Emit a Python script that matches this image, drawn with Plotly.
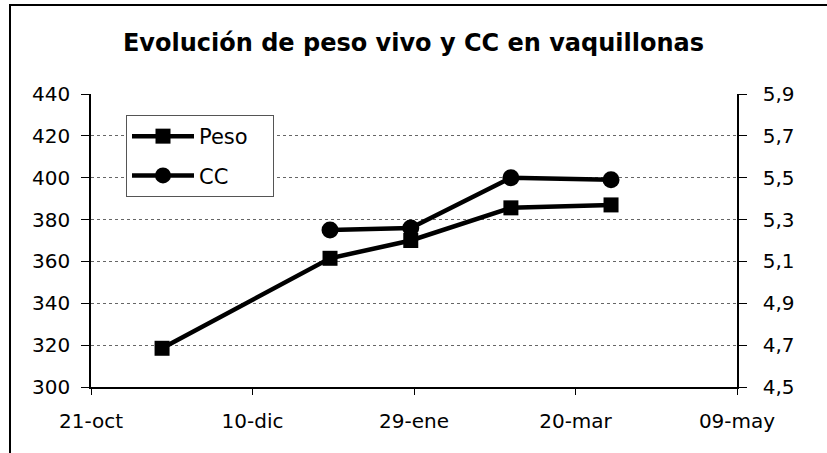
import plotly.graph_objects as go

# Data
peso_dates = ["2004-11-12", "2005-01-03", "2005-01-28", "2005-02-28", "2005-03-31"]
peso_vals = [318.5, 361.5, 370, 385.6, 387]
cc_dates = ["2005-01-03", "2005-01-28", "2005-02-28", "2005-03-31"]
cc_vals = [5.25, 5.26, 5.5, 5.49]

x_tickvals = ["2004-10-21", "2004-12-10", "2005-01-29", "2005-03-20", "2005-05-09"]
x_ticktext = ["21-oct", "10-dic", "29-ene", "20-mar", "09-may"]
y_left_ticks = [300, 320, 340, 360, 380, 400, 420, 440]
y_right_ticks = [4.5, 4.7, 4.9, 5.1, 5.3, 5.5, 5.7, 5.9]
y_right_text = ["4,5", "4,7", "4,9", "5,1", "5,3", "5,5", "5,7", "5,9"]

FONT = "DejaVu Sans, Liberation Sans, Arial, sans-serif"
PAD = "\u00a0\u00a0\u00a0"

fig = go.Figure()
fig.add_trace(go.Scatter(
    x=peso_dates, y=peso_vals, name="Peso" + PAD, mode="lines+markers",
    line=dict(color="black", width=4.5),
    marker=dict(symbol="square", size=15, color="black"),
    legendgroup="a", yaxis="y"))
fig.add_trace(go.Scatter(
    x=cc_dates, y=cc_vals, name="CC", mode="lines+markers",
    line=dict(color="black", width=4.5),
    marker=dict(symbol="circle", size=17, color="black"),
    legendgroup="b", yaxis="y2"))

fig.update_layout(
    width=827, height=453,
    margin=dict(l=91, r=90, t=94, b=66),
    paper_bgcolor="white", plot_bgcolor="white",
    font=dict(family=FONT, size=20, color="black"),
    title=dict(text="<b>Evolución de peso vivo y CC en vaquillonas</b>",
               x=0.5, xanchor="center", y=1 - 43 / 453, yanchor="middle",
               font=dict(family=FONT, size=24, color="black")),
    xaxis=dict(type="date", range=["2004-10-21", "2005-05-09"],
               tickvals=x_tickvals, ticktext=x_ticktext,
               showgrid=False, showline=True, linecolor="black", linewidth=1.5,
               ticks="outside", ticklen=6, tickcolor="black",
               ticklabelstandoff=9, zeroline=False),
    yaxis=dict(range=[300, 440], tickvals=y_left_ticks,
               showgrid=True, gridcolor="#666666", griddash="dot", gridwidth=1,
               showline=True, linecolor="black", linewidth=1.5,
               ticks="outside", ticklen=8, tickcolor="black",
               ticklabelstandoff=7, zeroline=False),
    yaxis2=dict(range=[4.5, 5.9], tickvals=y_right_ticks, ticktext=y_right_text,
                overlaying="y", side="right", showgrid=False,
                showline=True, linecolor="black", linewidth=1.5,
                ticks="outside", ticklen=8, tickcolor="black",
                ticklabelstandoff=12, zeroline=False),
    legend=dict(x=(126 - 91) / 646, y=(387 - 115) / 293, xanchor="left", yanchor="top",
                bgcolor="white", bordercolor="#555555", borderwidth=1,
                font=dict(family=FONT, size=21, color="black"),
                tracegroupgap=9, itemwidth=62),
    showlegend=True,
)

# Outer chart border (left/top visible in reference)
fig.add_shape(type="rect", xref="paper", yref="paper",
              x0=-81 / 646, x1=1 + 100 / 646, y0=-80 / 293, y1=1 + 89 / 293,
              line=dict(color="black", width=2), fillcolor="rgba(0,0,0,0)",
              layer="below")

fig.write_html("out.html", config={"displayModeBar": False},
               post_script="document.body.style.margin='0';")
